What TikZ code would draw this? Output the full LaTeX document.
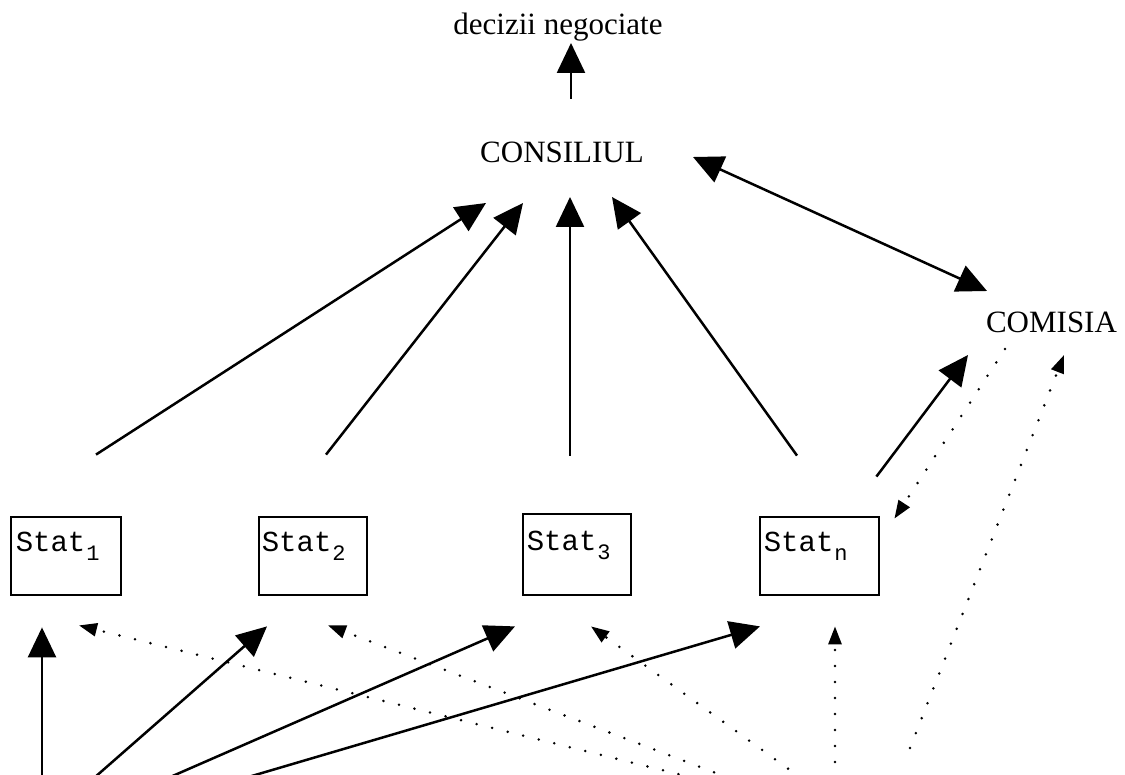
\documentclass[tikz,border=0pt]{standalone}
\usepackage{fontspec}
\setmainfont{Liberation Serif}
\newfontfamily\statfont{Liberation Mono}
\usetikzlibrary{arrows.meta,calc}

% subscript for the member-state labels
\newcommand\statsub[1]{\kern1pt\raisebox{-9pt}{\fontsize{22}{22}\selectfont #1}}

\tikzset{
  lbl/.style={font=\fontsize{31}{36}\selectfont, inner sep=0pt, anchor=base},
  statbox/.style={draw, line width=2.8pt, inner sep=0pt, minimum height=78pt},
  stattxt/.style={font=\statfont\fontsize{29}{30}\selectfont, inner sep=0pt, anchor=base west},
  flow/.style={line width=2.5pt, -{Triangle[length=30pt,width=28pt]}},
  twoway/.style={line width=2.5pt, {Triangle[length=30pt,width=28pt]}-{Triangle[length=30pt,width=28pt]}},
  hint/.style={line width=2.8pt, line cap=round, dash pattern=on 0pt off 16pt,
    -{Triangle[length=18pt,width=13pt]}},
}

\begin{document}
\begin{tikzpicture}[x=1pt, y=-1pt]
\useasboundingbox (0,0) rectangle (1125,775);
\clip (0,0) rectangle (1125,775);

% institutions
\node[lbl] (dec)  at (558,35)    {decizii negociate};
\node[lbl] (cons) at (562,163)   {CONSILIUL};
\node[lbl] (com)  at (1051.5,333) {COMISIA};

% member states
\node[statbox, minimum width=110pt] (s1) at (66,556) {};
\node[statbox, minimum width=108pt] (s2) at (313,556) {};
\node[statbox, minimum width=108pt, minimum height=81pt] (s3) at (577,554.5) {};
\node[statbox, minimum width=119pt] (sn) at (819.5,556) {};

\node[stattxt] at ($(s1.north west)+(6,36)$) {Stat\statsub{1}};
\node[stattxt] at ($(s2.north west)+(4,36)$) {Stat\statsub{2}};
\node[stattxt] at ($(s3.north west)+(5,38)$) {Stat\statsub{3}};
\node[stattxt] at ($(sn.north west)+(5,36)$) {Stat\statsub{n}};

% council output and council--commission link
\draw[flow] ($(cons.base)+(9,-64)$) -- ($(dec.base)+(13,8)$);
\draw[twoway] ($(cons.base)+(131,-6)$) -- ($(com.base)+(-64.5,-42)$);

% states to council
\draw[flow] ($(s1.north)+(30,-61)$) -- ($(cons.base)+(-76,40)$);
\draw[flow] ($(s2.north)+(13,-61)$) -- ($(cons.base)+(-39,40)$);
\draw[flow] ($(s3.north)+(-7,-57)$) -- ($(cons.base)+(8,34)$);
\draw[flow] ($(sn.north)+(-22.5,-60)$) -- ($(cons.base)+(50,34)$);

% state n and the commission
\draw[flow] ($(sn.north east)+(-4,-39)$) -- ($(com.base)+(-83.5,22)$);
\draw[hint] ($(com.base)+(-46.5,16)$) -- ($(sn.north east)+(14,3)$);
\coordinate (ci) at (910,748);
\draw[hint] (ci) -- ($(com.base)+(12.5,22)$);

% inputs from below: solid
\coordinate (u1) at (42,778);
\coordinate (u2) at (94,778);
\coordinate (u3) at (168,778);
\coordinate (u4) at (245,778);
\draw[flow] (u1) -- ($(s1.south)+(-24,31)$);
\draw[flow] (u2) -- ($(s2.south)+(-46,30)$);
\draw[flow] (u3) -- ($(s3.south)+(-62,30)$);
\draw[flow] (u4) -- ($(sn.south)+(-59.5,30)$);

% inputs from below: dotted
\coordinate (v1) at (694,778);
\coordinate (v2) at (729,778);
\coordinate (v3) at (801,778);
\coordinate (v4) at (835,778);
\draw[hint] (v1) -- ($(s1.south)+(13,29)$);
\draw[hint] (v2) -- ($(s2.south)+(15,29)$);
\draw[hint] (v3) -- ($(s3.south)+(14,30)$);
\draw[hint] (v4) -- ($(sn.south)+(15.5,30)$);
\end{tikzpicture}
\end{document}
